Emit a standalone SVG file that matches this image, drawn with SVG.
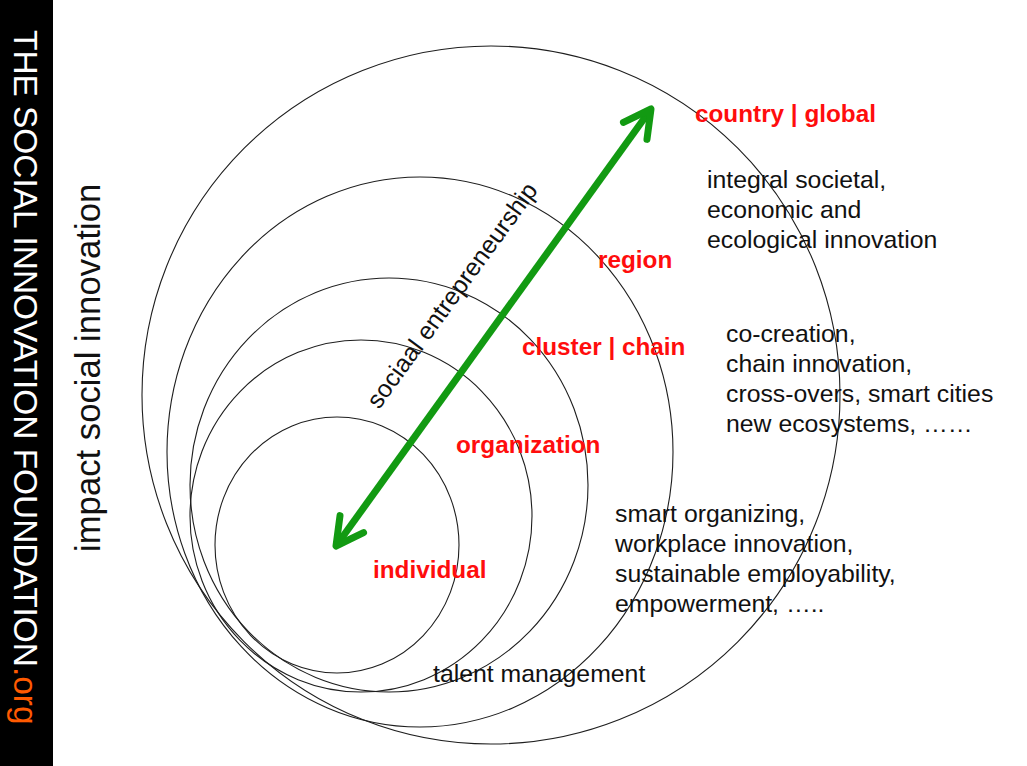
<svg xmlns="http://www.w3.org/2000/svg" width="1027" height="766" viewBox="0 0 1027 766">
  <style>
    .ring { fill: none; stroke: #1e1e1e; stroke-width: 1.1; }
    .lbl { font-family: "Liberation Sans", Arial, Helvetica, sans-serif; font-size: 24.3px; font-weight: bold; fill: #ff0d0d; }
    .txt { font-family: "Liberation Sans", Arial, Helvetica, sans-serif; font-size: 24.8px; fill: #111111; }
    .arrow { stroke: #129a12; stroke-width: 7; fill: none; }
  </style>
  <defs>
    <marker id="chev" viewBox="-32 -20 38 40" refX="0" refY="0" markerWidth="38" markerHeight="40" markerUnits="userSpaceOnUse" orient="auto-start-reverse">
      <path d="M-27,-14.5 L0,0 L-27,14.5" fill="none" stroke="#129a12" stroke-width="7" stroke-linecap="round" stroke-linejoin="round"/>
    </marker>
  </defs>
  <rect width="1027" height="766" fill="#ffffff"/>

  <g id="sidebar">
    <rect x="0" y="0" width="53" height="766" fill="#000000"/>
    <text transform="translate(14,30) rotate(90)" font-family="'Liberation Sans', Arial, Helvetica, sans-serif" font-size="33.4" fill="#ffffff">THE SOCIAL INNOVATION FOUNDATION<tspan fill="#ff5a00">.org</tspan></text>
  </g>

  <g id="axis-label">
    <text transform="translate(100,552) rotate(-90)" font-family="'Liberation Sans', Arial, Helvetica, sans-serif" font-size="34.7" fill="#111111">impact social innovation</text>
  </g>

  <g id="country-global">
    <ellipse class="ring" cx="491" cy="395" rx="349" ry="349"/>
    <text class="lbl" x="695" y="122">country | global</text>
  </g>
  <g id="region">
    <ellipse class="ring" cx="420" cy="452" rx="253" ry="275"/>
    <text class="lbl" x="598" y="268">region</text>
  </g>
  <g id="cluster-chain">
    <ellipse class="ring" cx="389" cy="485" rx="199" ry="207"/>
    <text class="lbl" x="522" y="355">cluster | chain</text>
  </g>
  <g id="organization">
    <ellipse class="ring" cx="361" cy="516" rx="171" ry="176"/>
    <text class="lbl" x="456" y="453">organization</text>
  </g>
  <g id="individual">
    <ellipse class="ring" cx="337" cy="545" rx="122" ry="128"/>
    <text class="lbl" x="373" y="578">individual</text>
  </g>

  <g id="desc-global">
    <text class="txt" x="707" y="188">integral societal,</text>
    <text class="txt" x="707" y="218">economic and</text>
    <text class="txt" x="707" y="248">ecological innovation</text>
  </g>
  <g id="desc-cluster">
    <text class="txt" x="726" y="342">co-creation,</text>
    <text class="txt" x="726" y="372">chain innovation,</text>
    <text class="txt" x="726" y="402">cross-overs, smart cities</text>
    <text class="txt" x="726" y="432">new ecosystems, ……</text>
  </g>
  <g id="desc-organization">
    <text class="txt" x="615" y="522">smart organizing,</text>
    <text class="txt" x="615" y="552">workplace innovation,</text>
    <text class="txt" x="615" y="582">sustainable employability,</text>
    <text class="txt" x="615" y="612">empowerment, …..</text>
  </g>
  <g id="desc-individual">
    <text class="txt" x="433" y="682">talent management</text>
  </g>

  <g id="connectors">
    <line class="arrow" x1="336" y1="546" x2="651" y2="109" marker-start="url(#chev)" marker-end="url(#chev)"/>
    <text class="txt" transform="translate(379,410) rotate(-54)">sociaal entrepreneurship</text>
  </g>
</svg>
